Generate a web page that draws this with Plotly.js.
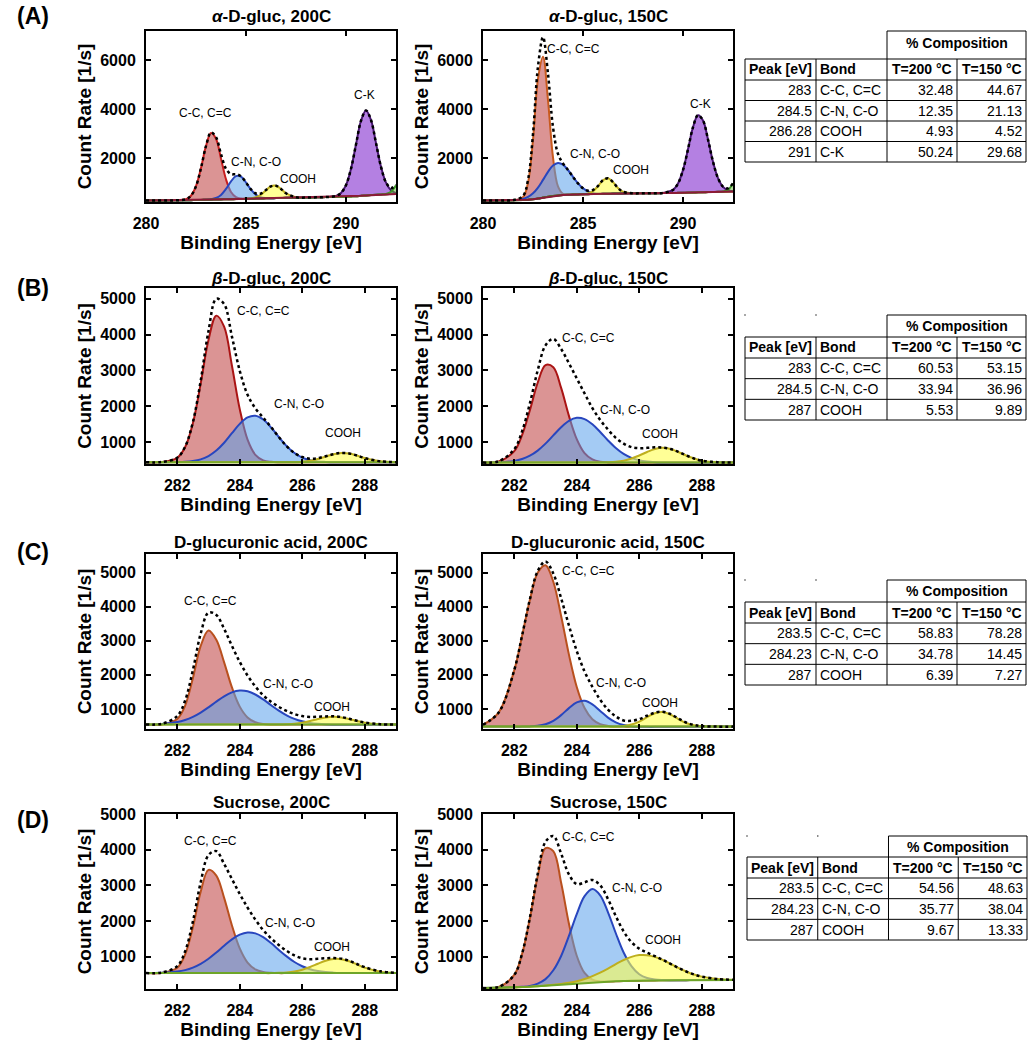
<!DOCTYPE html>
<html><head><meta charset="utf-8">
<script src="https://cdn.plot.ly/plotly-3.0.1.min.js"></script>
<style>html,body{margin:0;padding:0;background:#fff;} #chart{width:1032px;height:1050px;}</style>
</head><body><div id="chart"></div>
<script>
// ---------- DATA ----------
const gridA = [280,281,281.5,282,282.25,282.5,282.75,283,283.25,283.5,283.75,284,284.25,284.5,284.75,285,285.25,285.5,285.75,286,286.25,286.5,286.75,287,287.5,288,288.5,289,289.5,289.75,290,290.25,290.5,290.75,291,291.25,291.5,291.75,292,292.25,292.5];
const gridB = [281,281.5,282,282.25,282.5,282.75,283,283.25,283.5,283.75,284,284.25,284.5,284.75,285,285.25,285.5,285.75,286,286.25,286.5,286.75,287,287.25,287.5,287.75,288,288.5,289];

// (A) alpha-D-gluc, 200C
const aLeftBg   = [260,265,268,272,275,280,285,290,295,300,305,310,315,320,325,330,335,340,345,350,355,360,365,370,375,380,390,400,410,415,420,430,440,455,470,485,500,510,520,525,530];
const aLeftCC   = [260,265,269,315,457,846,1589,2490,3028,2791,1973,1130,612,399,340,332,335,340,345,350,355,360,365,370,375,380,390,400,410,415,420,430,440,455,470,485,500,510,520,525,530];
const aLeftCN   = [260,265,268,272,275,280,285,292,311,362,491,735,1042,1259,1237,998,704,494,393,361,355,360,365,370,375,380,390,400,410,415,420,430,440,455,470,485,500,510,520,525,530];
const aLeftCOOH = [260,265,268,272,275,280,285,290,295,300,305,310,315,320,325,330,347,393,502,681,843,865,733,558,392,380,390,400,410,415,420,430,440,455,470,485,500,510,520,525,530];
const aLeftCK   = [260,265,268,272,275,280,285,290,295,300,305,310,315,320,325,330,335,340,345,350,355,360,365,370,375,380,390,400,449,568,891,1560,2551,3526,3950,3556,2611,1640,991,678,569];
const aLeftEdge = [260,265,268,272,275,280,285,290,295,300,305,310,315,320,325,330,335,340,345,350,355,360,365,370,375,380,390,400,410,415,420,430,440,455,470,485,500,510,530,620,880];
const aLeftEnv  = [260,265,269,315,457,846,1589,2492,3044,2853,2159,1555,1339,1338,1252,1000,716,547,550,692,843,865,733,558,392,380,390,400,449,568,891,1560,2551,3526,3950,3556,2611,1640,1000,770,900];

// (A) alpha-D-gluc, 150C
const aRightBg   = [260,265,270,280,290,310,340,380,420,450,470,485,495,505,510,515,520,525,530,535,540,545,550,552,555,558,560,565,570,575,580,585,590,595,600,605,610,615,620,625,630];
const aRightCC   = [260,265,270,399,990,2741,5243,6146,4373,2024,837,535,498,505,510,515,520,525,530,535,540,545,550,552,555,558,560,565,570,575,580,585,590,595,600,605,610,615,620,625,630];
const aRightCN   = [260,265,276,329,407,555,791,1105,1435,1693,1800,1728,1510,1230,961,760,637,574,536,535,540,545,550,552,555,558,560,565,570,575,580,585,590,595,600,605,610,615,620,625,630];
const aRightCOOH = [260,265,270,280,290,310,340,380,420,450,470,485,495,505,510,515,548,643,848,1092,1174,1013,774,622,557,558,560,565,570,575,580,585,590,595,600,605,610,615,620,625,630];
const aRightCK   = [260,265,270,280,290,310,340,380,420,450,470,485,495,505,510,515,520,525,530,535,540,545,550,552,555,558,560,571,694,956,1507,2357,3260,3754,3540,2758,1848,1177,820,681,643];
const aRightEdge = [260,265,270,280,290,310,340,380,420,450,470,485,495,505,510,515,520,525,530,535,540,545,550,552,555,558,560,565,570,575,580,585,590,595,600,605,610,615,630,700,960];
const aRightEnv  = [260,265,276,448,1107,2986,5750,6950,5450,3267,2167,1778,1513,1230,961,760,665,692,854,1092,1174,1013,774,622,557,558,560,571,694,956,1507,2357,3260,3754,3540,2758,1848,1177,830,760,970];

// (B) beta-D-gluc, 200C
const bLeftBg   = [440,440,440,440,440,440,440,440,440,440,440,440,440,440,440,440,440,440,440,440,440,440,440,440,440,440,440,440,440];
const bLeftCC   = [440,445,562,855,1525,2631,3851,4529,4221,3132,1920,1069,646,491,450,440,440,440,440,440,440,440,440,440,440,440,440,440,440];
const bLeftCN   = [440,440,444,452,473,520,612,765,983,1251,1510,1691,1737,1632,1411,1142,889,696,569,497,462,448,440,440,440,440,440,440,440];
const bLeftCOOH = [440,440,440,440,440,440,440,440,440,440,440,440,440,440,440,440,440,440,456,482,530,598,664,699,684,626,556,464,442];
const bLeftEnv  = [440,445,566,867,1558,2711,4100,5000,4850,3943,2990,2320,1943,1683,1421,1142,889,696,585,539,552,606,664,699,684,626,556,464,442];

// (B) beta-D-gluc, 150C
const bRightBg   = [430,430,430,430,430,430,430,430,430,430,430,430,430,430,430,430,430,430,430,430,430,430,430,430,430,430,430,430,430];
const bRightCC   = [430,459,751,1197,1890,2657,3150,3092,2513,1732,1084,693,516,452,434,430,430,430,430,430,430,430,430,430,430,430,430,430,430];
const bRightCN   = [430,438,477,530,621,764,958,1188,1416,1595,1678,1641,1497,1283,1047,836,671,561,494,459,442,434,430,430,430,430,430,430,430];
const bRightCOOH = [430,430,430,430,430,430,430,430,430,430,430,430,430,430,438,452,483,542,627,726,808,840,808,726,627,542,483,438,430];
const bRightEnv  = [430,467,800,1300,2080,3000,3700,3880,3600,3200,2780,2360,1950,1620,1350,1120,960,860,830,840,855,850,810,730,630,545,485,440,430];

// (C) D-glucuronic acid, 200C
const cLeftBg   = [540,540,540,540,540,540,540,540,540,540,540,540,540,540,540,540,540,540,540,540,540,540,540,540,540,540,540,540,540];
const cLeftCC   = [540,545,703,1092,1901,2850,3300,3030,2367,1630,1067,750,608,557,544,540,540,540,540,540,540,540,540,540,540,540,540,540,540];
const cLeftCN   = [543,558,614,675,767,893,1046,1213,1370,1486,1538,1516,1423,1278,1110,951,813,708,635,590,565,551,545,542,540,540,540,540,540];
const cLeftCOOH = [540,540,540,540,540,540,540,540,540,540,540,540,540,540,540,540,550,566,597,645,703,751,770,751,703,645,597,550,540];
const cLeftEnv  = [543,563,790,1240,2140,3210,3830,3760,3350,2850,2380,1980,1660,1400,1210,1060,940,850,790,765,770,780,785,760,710,650,600,550,540];

// (C) D-glucuronic acid, 150C
const cRightBg   = [480,480,480,480,480,480,480,480,480,480,480,480,480,480,480,480,480,480,480,480,480,480,480,480,480,480,480,480,480];
const cRightCC   = [537,893,2133,3140,4199,4997,5220,4736,3729,2594,1644,1026,698,553,501,485,480,480,480,480,480,480,480,480,480,480,480,480,480];
const cRightCN   = [480,480,480,480,486,504,551,651,818,1023,1191,1237,1135,941,744,603,526,494,484,480,480,480,480,480,480,480,480,480,480];
const cRightCOOH = [480,480,480,480,480,480,480,480,480,480,480,480,480,480,480,480,499,541,628,757,874,908,834,703,587,519,491,480,480];
const cRightEnv  = [537,893,2140,3150,4220,5050,5330,4980,4250,3450,2700,2100,1650,1270,980,780,660,650,700,800,890,915,850,720,600,530,495,480,480];

// (D) Sucrose, 200C
const dLeftBg   = [545,545,545,545,545,545,545,545,545,545,545,545,545,545,545,545,545,545,545,545,545,545,545,545,545,545,545,545,545];
const dLeftCC   = [545,549,693,1060,1828,2826,3435,3275,2652,1878,1235,839,647,574,552,545,545,545,545,545,545,545,545,545,545,545,545,545,545];
const dLeftCN   = [546,554,588,629,699,804,947,1122,1312,1491,1623,1683,1658,1551,1386,1195,1014,856,737,653,602,573,558,550,547,545,545,545,545];
const dLeftCOOH = [545,545,545,545,545,545,545,545,545,545,545,545,545,545,545,552,564,591,641,715,806,891,940,935,876,788,698,585,551];
const dLeftEnv  = [546,560,740,1150,1990,3090,3850,3960,3600,3180,2760,2380,2040,1750,1520,1330,1170,1040,960,935,945,960,965,950,890,800,710,595,555];

// (D) Sucrose, 150C
const dRightBg   = [130,135,145,155,165,180,195,210,225,240,255,270,285,295,305,315,322,328,333,337,340,343,345,347,348,349,350,350,350];
const dRightCC   = [130,158,494,1081,2076,3253,4042,3962,3075,1928,1032,549,363,312,308,315,322,328,333,337,340,343,345,347,348,349,350,350,350];
const dRightCN   = [130,135,145,162,188,250,376,624,1025,1586,2198,2699,2900,2724,2248,1661,1122,742,514,407,363,349,345,347,348,349,350,350,350];
const dRightCOOH = [130,135,145,155,165,180,195,218,242,274,317,378,460,558,672,797,912,1000,1049,1048,999,913,804,693,591,508,447,380,357];
const dRightEnv  = [130,158,494,1088,2099,3323,4223,4384,3892,3308,3037,3086,3153,3004,2618,2143,1712,1414,1230,1118,1022,919,804,693,591,508,447,380,357];

// Tables
const tableHeader = ['Peak [eV]','Bond','T=200 °C','T=150 °C'];
const tableAPeak = ['283','284.5','286.28','291'];
const tableABond = ['C-C, C=C','C-N, C-O','COOH','C-K'];
const tableA200  = ['32.48','12.35','4.93','50.24'];
const tableA150  = ['44.67','21.13','4.52','29.68'];
const tableBPeak = ['283','284.5','287'];
const tableBBond = ['C-C, C=C','C-N, C-O','COOH'];
const tableB200  = ['60.53','33.94','5.53'];
const tableB150  = ['53.15','36.96','9.89'];
const tableCPeak = ['283.5','284.23','287'];
const tableCBond = ['C-C, C=C','C-N, C-O','COOH'];
const tableC200  = ['58.83','34.78','6.39'];
const tableC150  = ['78.28','14.45','7.27'];
const tableDPeak = ['283.5','284.23','287'];
const tableDBond = ['C-C, C=C','C-N, C-O','COOH'];
const tableD200  = ['54.56','35.77','9.67'];
const tableD150  = ['48.63','38.04','13.33'];

// ---------- STYLE / LAYOUT ----------
const FONT = 'Liberation Sans, Arial, sans-serif';
const W = 1032, H = 1050;
const PX = v => v / W;
const PY = v => 1 - v / H;

const FILL = {cc:'rgba(190,60,60,0.55)', cn:'rgba(90,160,235,0.55)', cooh:'rgba(255,255,80,0.6)', ck:'rgba(140,60,210,0.65)', edge:'rgba(110,190,60,0.5)'};
const BLUE = 'rgb(40,70,190)', YEL = 'rgb(190,175,30)', PURP = 'rgb(70,20,110)', GRN = 'rgb(60,150,40)';

const colX = [[146,396],[483,733]];
const rowY = [[31,202],[288,464],[554,729],[814,989]];

const panels = [
  {grid:gridA, bg:aLeftBg, bgc:'rgb(140,25,55)', env:aLeftEnv, comps:[[aLeftCC,'rgb(200,30,30)',FILL.cc],[aLeftCN,BLUE,FILL.cn],[aLeftCOOH,YEL,FILL.cooh],[aLeftCK,PURP,FILL.ck],[aLeftEdge,GRN,FILL.edge]]},
  {grid:gridA, bg:aRightBg, bgc:'rgb(140,25,55)', env:aRightEnv, comps:[[aRightCC,'rgb(200,90,30)',FILL.cc],[aRightCN,BLUE,FILL.cn],[aRightCOOH,YEL,FILL.cooh],[aRightCK,PURP,FILL.ck],[aRightEdge,GRN,FILL.edge]]},
  {grid:gridB, bg:bLeftBg, bgc:'rgb(120,170,40)', env:bLeftEnv, comps:[[bLeftCC,'rgb(170,20,20)',FILL.cc],[bLeftCN,BLUE,FILL.cn],[bLeftCOOH,YEL,FILL.cooh]]},
  {grid:gridB, bg:bRightBg, bgc:'rgb(120,170,40)', env:bRightEnv, comps:[[bRightCC,'rgb(170,20,20)',FILL.cc],[bRightCN,BLUE,FILL.cn],[bRightCOOH,YEL,FILL.cooh]]},
  {grid:gridB, bg:cLeftBg, bgc:'rgb(110,165,40)', env:cLeftEnv, comps:[[cLeftCC,'rgb(185,80,30)',FILL.cc],[cLeftCN,BLUE,FILL.cn],[cLeftCOOH,YEL,FILL.cooh]]},
  {grid:gridB, bg:cRightBg, bgc:'rgb(110,165,40)', env:cRightEnv, comps:[[cRightCC,'rgb(185,80,30)',FILL.cc],[cRightCN,BLUE,FILL.cn],[cRightCOOH,YEL,FILL.cooh]]},
  {grid:gridB, bg:dLeftBg, bgc:'rgb(110,165,40)', env:dLeftEnv, comps:[[dLeftCC,'rgb(185,80,30)',FILL.cc],[dLeftCN,BLUE,FILL.cn],[dLeftCOOH,YEL,FILL.cooh]]},
  {grid:gridB, bg:dRightBg, bgc:'rgb(110,165,40)', env:dRightEnv, comps:[[dRightCC,'rgb(185,80,30)',FILL.cc],[dRightCN,BLUE,FILL.cn],[dRightCOOH,YEL,FILL.cooh]]}
];

const xRanges = [[280,292.5],[280,292.5],[281,289],[281,289],[281,289],[281,289],[281,289],[281,289]];
const yRanges = [[200,7200],[200,7200],[390,5300],[390,5300],[410,5550],[410,5550],[100,5000],[100,5000]];
const yDticks = [2000,2000,1000,1000,1000,1000,1000,1000];
const xDticks = [5,5,2,2,2,2,2,2];

const titles = ['<i>α</i>-D-gluc, 200C','<i>α</i>-D-gluc, 150C','<i>β</i>-D-gluc, 200C','<i>β</i>-D-gluc, 150C',
  'D-glucuronic acid, 200C','D-glucuronic acid, 150C','Sucrose, 200C','Sucrose, 150C'];
const titleY = [16,16,278,278,542,542,802,802];
const panelLetters = ['(A)','(B)','(C)','(D)'];
const letterY = [16,288,552,820];

// peak labels [text, x, y] in data units
const peakLabels = [
  [['C-C, C=C',282.95,3850],['C-N, C-O',285.5,1830],['COOH',287.6,1130],['C-K',290.9,4600]],
  [['C-C, C=C',284.5,6450],['C-N, C-O',285.6,2170],['COOH',287.4,1530],['C-K',290.85,4230]],
  [['C-C, C=C',284.76,4670],['C-N, C-O',285.9,2075],['COOH',287.3,1250]],
  [['C-C, C=C',284.37,3900],['C-N, C-O',285.55,1900],['COOH',286.66,1230]],
  [['C-C, C=C',283.05,4160],['C-N, C-O',285.55,1735],['COOH',286.94,1050]],
  [['C-C, C=C',284.37,5040],['C-N, C-O',285.43,1755],['COOH',286.66,1170]],
  [['C-C, C=C',283.05,4250],['C-N, C-O',285.6,1950],['COOH',286.94,1290]],
  [['C-C, C=C',284.37,4360],['C-N, C-O',285.92,2935],['COOH',286.77,1460]]
];

const traces = [];
const layout = {
  width: W, height: H, margin:{l:0,r:0,t:0,b:0},
  paper_bgcolor:'white', plot_bgcolor:'white', showlegend:false,
  font:{family:FONT, color:'black'},
  annotations:[], shapes:[]
};

panels.forEach((p, i) => {
  const n = i + 1;
  const xa = 'x' + (n === 1 ? '' : n), ya = 'y' + (n === 1 ? '' : n);
  p.comps.forEach(c => {
    traces.push({x:p.grid, y:p.bg, xaxis:xa, yaxis:ya, mode:'lines', line:{width:0, shape:'spline'}, hoverinfo:'skip'});
    traces.push({x:p.grid, y:c[0], xaxis:xa, yaxis:ya, mode:'lines', fill:'tonexty', fillcolor:c[2], line:{color:c[1], width:2, shape:'spline'}});
  });
  traces.push({x:p.grid, y:p.bg, xaxis:xa, yaxis:ya, mode:'lines', line:{color:p.bgc, width:2}});
  traces.push({x:p.grid, y:p.env, xaxis:xa, yaxis:ya, mode:'lines', line:{color:'black', width:2.5, dash:'dot', shape:'spline'}});

  const col = i % 2, row = Math.floor(i / 2);
  const common = {showline:true, linecolor:'black', linewidth:2, mirror:'ticks', ticks:'inside', ticklen:5, tickwidth:2, tickcolor:'black',
    showgrid:false, zeroline:false, tickfont:{family:FONT, size:16, weight:'bold', color:'black'}};
  layout['xaxis' + (n === 1 ? '' : n)] = Object.assign({}, common, {
    domain:[PX(colX[col][0]), PX(colX[col][1])], anchor:ya, range:xRanges[i], dtick:xDticks[i], tick0:0,
    ticklabelstandoff:6,
    title:{text:'Binding Energy [eV]', font:{family:FONT, size:19, weight:'bold'}, standoff:4}
  });
  layout['yaxis' + (n === 1 ? '' : n)] = Object.assign({}, common, {
    domain:[PY(rowY[row][1]), PY(rowY[row][0])], anchor:xa, range:yRanges[i], dtick:yDticks[i], tick0:0,
    ticklabelstandoff:5,
    title:{text:'Count Rate [1/s]', font:{family:FONT, size:19, weight:'bold'}, standoff:4}
  });

  layout.annotations.push({xref:'paper', yref:'paper', x:PX((colX[col][0] + colX[col][1]) / 2), y:PY(titleY[i]),
    text:'<b>' + titles[i] + '</b>', showarrow:false, font:{family:FONT, size:17}, xanchor:'center', yanchor:'middle'});
  peakLabels[i].forEach(l => layout.annotations.push({xref:xa, yref:ya, x:l[1], y:l[2], text:l[0], showarrow:false,
    font:{family:FONT, size:12, color:'black'}, xanchor:'center', yanchor:'middle'}));
});

panelLetters.forEach((t, k) => layout.annotations.push({xref:'paper', yref:'paper', x:PX(33), y:PY(letterY[k]), text:'<b>' + t + '</b>',
  showarrow:false, font:{family:FONT, size:23}, xanchor:'center', yanchor:'middle'}));

// ---------- TABLES (drawn with shapes + text annotations) ----------
const tables = [
  {peak:tableAPeak, bond:tableABond, t200:tableA200, t150:tableA150, x0:745, x1:1026, compTop:31,  compText:43,  top:59,  bottom:162, dots:false},
  {peak:tableBPeak, bond:tableBBond, t200:tableB200, t150:tableB150, x0:745, x1:1026, compTop:315, compText:326, top:337, bottom:420, dots:true},
  {peak:tableCPeak, bond:tableCBond, t200:tableC200, t150:tableC150, x0:745, x1:1026, compTop:580, compText:591, top:602, bottom:685, dots:true},
  {peak:tableDPeak, bond:tableDBond, t200:tableD200, t150:tableD150, x0:747, x1:1027, compTop:836, compText:847, top:857, bottom:940, dots:true}
];
const colFrac = [0, 71/281, 142/281, 212/281, 1];
const line = (x0, y0, x1, y1) => layout.shapes.push({type:'line', xref:'paper', yref:'paper', x0:PX(x0), y0:PY(y0), x1:PX(x1), y1:PY(y1), line:{color:'black', width:1}});
const txt = (s, x, y, anchor, bold) => layout.annotations.push({xref:'paper', yref:'paper', x:PX(x), y:PY(y), text:bold ? '<b>' + s + '</b>' : s,
  showarrow:false, xanchor:anchor, yanchor:'middle', font:{family:FONT, size:14, color:'black'}});

tables.forEach(t => {
  const cx = colFrac.map(f => t.x0 + (t.x1 - t.x0) * f);
  const nRows = t.peak.length;
  const hdrBot = t.top + 21;
  const rh = (t.bottom - hdrBot) / nRows;
  const rowLines = [t.top, hdrBot];
  for (let r = 1; r <= nRows; r++) rowLines.push(hdrBot + rh * r);
  rowLines.forEach(y => line(cx[0], y, cx[4], y));
  cx.forEach(x => line(x, t.top, x, t.bottom));
  line(cx[2], t.compTop, cx[4], t.compTop);
  line(cx[2], t.compTop, cx[2], t.top);
  line(cx[4], t.compTop, cx[4], t.top);
  txt('% Composition', (cx[2] + cx[4]) / 2, t.compText, 'center', true);
  const hy = t.top + 10.5;
  txt(tableHeader[0], cx[0] + 2, hy, 'left', true);
  txt(tableHeader[1], cx[1] + 2, hy, 'left', true);
  txt(tableHeader[2], (cx[2] + cx[3]) / 2, hy, 'center', true);
  txt(tableHeader[3], (cx[3] + cx[4]) / 2, hy, 'center', true);
  for (let r = 0; r < nRows; r++) {
    const y = hdrBot + rh * (r + 0.5);
    txt(t.peak[r], cx[1] - 2, y, 'right', false);
    txt(t.bond[r], cx[1] + 2, y, 'left', false);
    txt(t.t200[r], cx[3] - 2, y, 'right', false);
    txt(t.t150[r], cx[4] - 2, y, 'right', false);
  }
  if (t.dots) {
    [cx[0], cx[1]].forEach(x => layout.shapes.push({type:'rect', xref:'paper', yref:'paper', x0:PX(x - 0.7), x1:PX(x + 0.7), y0:PY(t.compTop + 0.7), y1:PY(t.compTop - 0.7),
      line:{width:0}, fillcolor:'rgb(90,90,90)'}));
  }
});

Plotly.newPlot('chart', traces, layout, {staticPlot:true, displayModeBar:false});
</script></body></html>
